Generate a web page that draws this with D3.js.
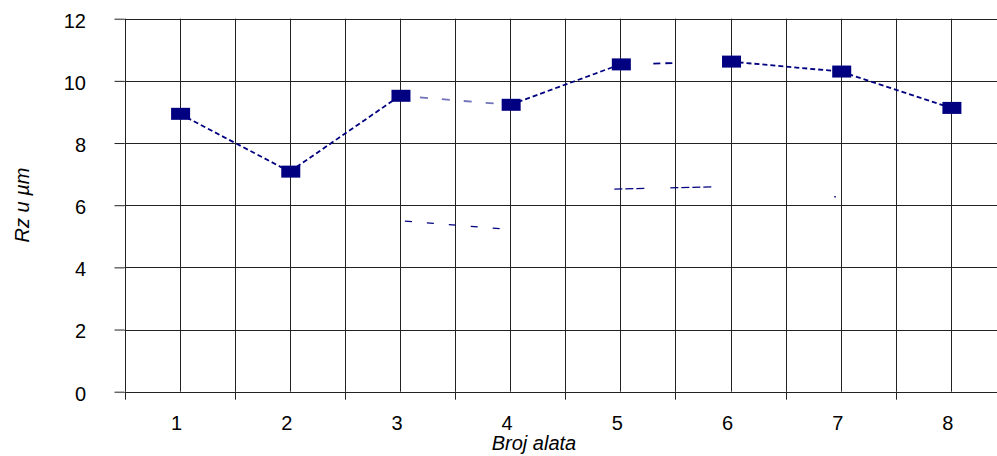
<!DOCTYPE html>
<html><head><meta charset="utf-8">
<script src="https://cdn.jsdelivr.net/npm/d3@7"></script>
<style>body{margin:0;background:#fff}svg{display:block}text{font-family:Arial,"Liberation Sans",sans-serif}</style>
</head><body><svg id="c" width="997" height="456"></svg>
<script>
const categories = ["1","2","3","4","5","6","7","8"];
const rzValues = [8.94, 7.08, 9.52, 9.23, 10.53, 10.62, 10.30, 9.13];
const faintValues = [null, null, 5.5, 5.22, 6.52, 6.6, 6.25, null];
const yTicks = [0, 2, 4, 6, 8, 10, 12];
const xTitle = "Broj alata", yTitle = "Rz u µm";

const svg = d3.select("#c");
const L = 124.5, R = 1006, T = 18.7, B = 391.7;
const x = d3.scaleBand().domain(categories).range([L, R]).paddingInner(0).paddingOuter(0);
const y = d3.scaleLinear().domain([0, 12]).range([B, T]);
const bw = x.bandwidth();
const cx = c => x(c) + bw / 2;

// vertical gridlines at band edges and centers
const vx = [];
categories.forEach(c => { vx.push(x(c)); vx.push(cx(c)); });
vx.push(R);
svg.append("g").selectAll("line").data(vx).join("line")
  .attr("x1", d => Math.round(d) + 0.5).attr("x2", d => Math.round(d) + 0.5)
  .attr("y1", T).attr("y2", B)
  .attr("stroke", "#222").attr("stroke-width", 1);

// y axis with horizontal grid
const ya = svg.append("g").attr("transform", `translate(${L},0)`)
  .call(d3.axisLeft(y).tickValues(yTicks).tickSize(10).tickPadding(28.5).tickFormat(d3.format("d")));
ya.select(".domain").remove();
ya.selectAll(".tick line").attr("stroke", "#222");
ya.selectAll(".tick text").attr("font-size", 20).attr("fill", "#000").attr("dy", "0.42em")
  .style("font-family", "Arial, 'Liberation Sans', sans-serif");
svg.append("g").selectAll("line").data(yTicks).join("line")
  .attr("x1", L).attr("x2", R)
  .attr("y1", d => Math.round(y(d)) + 0.5).attr("y2", d => Math.round(y(d)) + 0.5)
  .attr("stroke", "#222");

// x axis ticks at band edges
svg.append("g").selectAll("line").data(categories.map(c => x(c)).concat([R])).join("line")
  .attr("x1", d => Math.round(d) + 0.5).attr("x2", d => Math.round(d) + 0.5)
  .attr("y1", B).attr("y2", B + 8).attr("stroke", "#222");
svg.append("g").selectAll("text").data(categories).join("text")
  .attr("x", d => cx(d) - 3).attr("y", 430).attr("text-anchor", "middle")
  .attr("font-size", 20).text(d => d);

// axis titles
svg.append("text").attr("x", 534).attr("y", 450).attr("text-anchor", "middle")
  .attr("font-size", 20).attr("font-style", "italic").text(xTitle);
svg.append("text").attr("transform", "translate(29,205) rotate(-90)").attr("text-anchor", "middle")
  .attr("font-size", 20).attr("font-style", "italic").text(yTitle);

// main series segments
const mainDash = ["5,3", "5,3", "0,20,8,14,8,14,8,14,8,200", "5,3", "0,33,7,5,7,200", "5,3", "5,3"];
const mainOpacity = [1, 1, 0.55, 1, 1, 1, 1];
const segs = d3.range(categories.length - 1).map(i => ({i, a: categories[i], b: categories[i + 1], va: rzValues[i], vb: rzValues[i + 1]}));
svg.append("g").selectAll("line").data(segs).join("line")
  .attr("x1", d => cx(d.a)).attr("y1", d => y(d.va))
  .attr("x2", d => cx(d.b)).attr("y2", d => y(d.vb))
  .attr("stroke", "#000080").attr("stroke-width", 1.8)
  .attr("stroke-dasharray", d => mainDash[d.i]).attr("opacity", d => mainOpacity[d.i]);

// faint second series fragments
const faintDash = {2: "0,5,7,15,7,15,7,15,7,15,7,200", 4: "0,-6,8,3,8,3,8,26,8,3,8,3,8,3,8,200", 5: "0,104,2,200"};
const fsegs = d3.range(categories.length - 1)
  .filter(i => faintValues[i] != null && faintValues[i + 1] != null && faintDash[i])
  .map(i => ({i, a: categories[i], b: categories[i + 1], va: faintValues[i], vb: faintValues[i + 1]}));
svg.append("g").selectAll("line").data(fsegs).join("line")
  .attr("x1", d => cx(d.a) - (d.i === 4 ? 6 : 0)).attr("y1", d => y(d.va))
  .attr("x2", d => cx(d.b)).attr("y2", d => y(d.vb))
  .attr("stroke", "#000080").attr("stroke-width", 1.2)
  .attr("stroke-dasharray", d => faintDash[d.i].replace("0,-6,", ""));

// markers
svg.append("g").selectAll("rect").data(categories).join("rect")
  .attr("x", (d) => cx(d) - 8.5).attr("y", (d, i) => y(rzValues[i]) - 6)
  .attr("width", 19).attr("height", 12).attr("fill", "#000080");
</script></body></html>
